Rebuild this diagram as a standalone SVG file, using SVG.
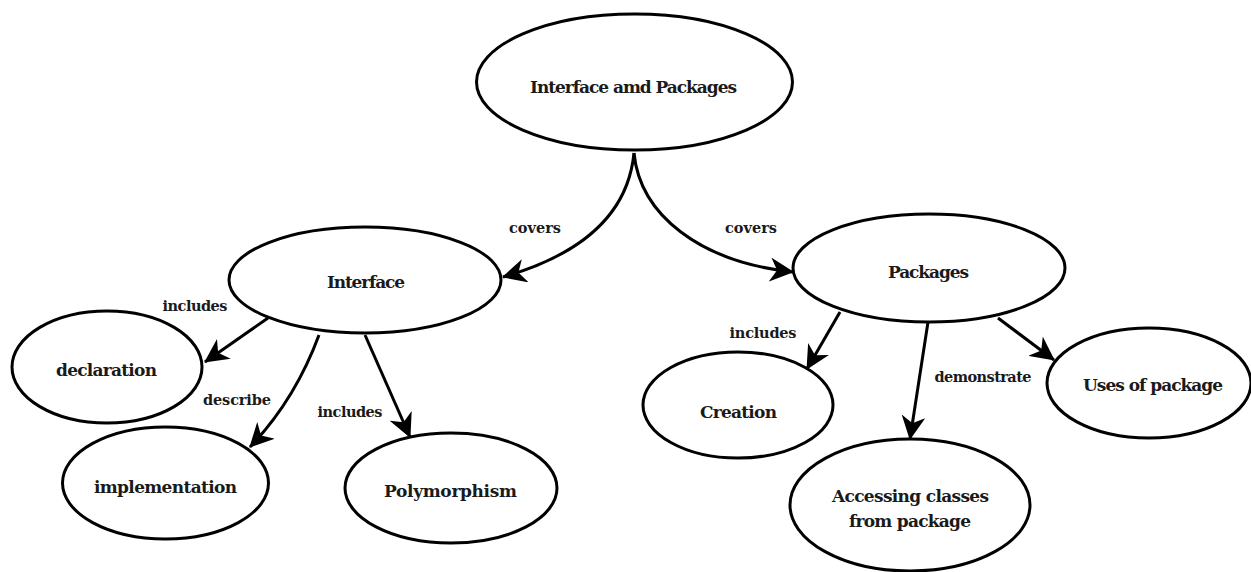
<svg xmlns="http://www.w3.org/2000/svg" width="1251" height="572" viewBox="0 0 1251 572">
<style>
.node ellipse{fill:#fff;stroke:#000;stroke-width:3}
.node text{font-family:"DejaVu Serif","Liberation Serif",serif;font-weight:bold;font-size:17px;fill:#1a1a1a;text-anchor:middle}
.edge{fill:none;stroke:#000;stroke-width:3;marker-end:url(#arr)}
.lbl{font-family:"DejaVu Serif","Liberation Serif",serif;font-weight:bold;font-size:14.5px;fill:#1a1a1a;text-anchor:middle}
</style>
<defs>
<marker id="arr" viewBox="0 0 24 24" refX="23" refY="12" markerWidth="24" markerHeight="24" markerUnits="userSpaceOnUse" orient="auto">
<path d="M0,0 L24,12 L0,24 L7,12 Z" fill="#000"/>
</marker>
</defs>
<rect width="1251" height="572" fill="#fff"/>
<g id="connectors">
<path class="edge" d="M634,153 C628,215 580,255 503,277"/>
<path class="edge" d="M634,153 C640,215 700,262 793,272"/>
<path class="edge" d="M268,318 L205,362"/>
<path class="edge" d="M319,335 Q295,400 250,447"/>
<path class="edge" d="M365,335 L410,437"/>
<path class="edge" d="M840,312 L807,369"/>
<path class="edge" d="M928,322 L910,439"/>
<path class="edge" d="M998,318 L1054,360"/>
<text class="lbl" x="535" y="233" textLength="52">covers</text>
<text class="lbl" x="751" y="233" textLength="52">covers</text>
<text class="lbl" x="195" y="311" textLength="65">includes</text>
<text class="lbl" x="237" y="405" textLength="68">describe</text>
<text class="lbl" x="350" y="417" textLength="65">includes</text>
<text class="lbl" x="763" y="338" textLength="67">includes</text>
<text class="lbl" x="983" y="382" textLength="97">demonstrate</text>
</g>
<g id="n-root" class="node">
<ellipse cx="634.5" cy="82" rx="158" ry="68"/>
<text x="633.5" y="93" textLength="207">Interface amd Packages</text>
</g>
<g id="n-interface" class="node">
<ellipse cx="365" cy="280" rx="136" ry="53"/>
<text x="366" y="288" textLength="78">Interface</text>
</g>
<g id="n-declaration" class="node">
<ellipse cx="107" cy="367" rx="95" ry="56"/>
<text x="106.5" y="376" textLength="101">declaration</text>
</g>
<g id="n-implementation" class="node">
<ellipse cx="165.5" cy="483" rx="103" ry="56"/>
<text x="165.5" y="493" textLength="143">implementation</text>
</g>
<g id="n-polymorphism" class="node">
<ellipse cx="451" cy="488" rx="106" ry="55"/>
<text x="450.5" y="497" textLength="133">Polymorphism</text>
</g>
<g id="n-packages" class="node">
<ellipse cx="929" cy="268" rx="136" ry="54"/>
<text x="928.5" y="278" textLength="81">Packages</text>
</g>
<g id="n-creation" class="node">
<ellipse cx="738" cy="405" rx="95" ry="53"/>
<text x="738.5" y="418" textLength="77">Creation</text>
</g>
<g id="n-uses" class="node">
<ellipse cx="1149" cy="383" rx="102" ry="55"/>
<text x="1153" y="391" textLength="140">Uses of package</text>
</g>
<g id="n-accessing" class="node">
<ellipse cx="910" cy="505" rx="120" ry="66"/>
<text x="910.5" y="502" textLength="157">Accessing classes</text>
<text x="910" y="527" textLength="122">from package</text>
</g>
</svg>
